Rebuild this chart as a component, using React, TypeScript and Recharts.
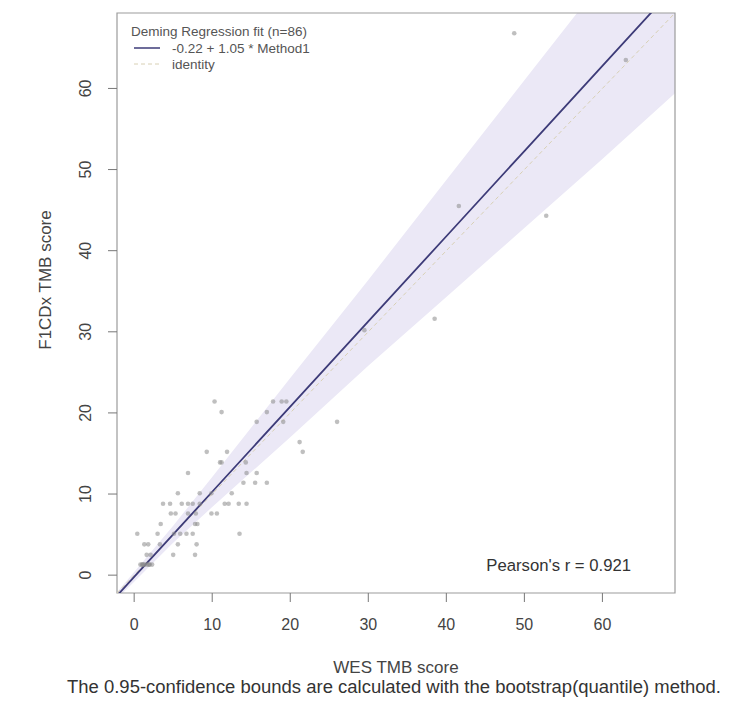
import { ComposedChart, Area, Line, Scatter, XAxis, YAxis, ReferenceArea } from 'recharts';

// WES TMB (x) vs F1CDx TMB (y)
const wesScores = [
  48.7, 63.0, 41.6, 52.8, 38.5, 29.5, 26.0,
  10.3, 17.8, 18.9, 19.5, 11.2, 17.0, 15.7, 19.1, 21.2,
  9.3, 11.9, 21.6, 11.0, 11.2, 14.3, 6.9, 14.4, 15.7,
  14.0, 15.5, 17.0, 5.6, 8.4, 9.9, 12.5,
  3.7, 4.6, 6.1, 6.9, 7.5, 8.4, 11.6, 12.1, 13.4, 14.4,
  4.7, 5.3, 6.9, 7.9, 9.9, 10.6, 3.4, 7.8, 8.1,
  0.4, 3.0, 5.1, 5.9, 6.7, 7.5, 13.5,
  1.3, 1.8, 3.3, 5.6, 8.0, 1.6, 2.1, 5.0, 7.8,
  0.8, 1.0, 1.2, 1.4, 1.7, 2.0, 2.3, 1.1, 1.9,
];
const f1cdxScores = [
  66.8, 63.5, 45.5, 44.3, 31.6, 30.2, 18.9,
  21.4, 21.4, 21.4, 21.4, 20.1, 20.1, 18.9, 18.9, 16.4,
  15.2, 15.2, 15.2, 13.9, 13.9, 13.9, 12.6, 12.6, 12.6,
  11.4, 11.4, 11.4, 10.1, 10.1, 10.1, 10.1,
  8.8, 8.8, 8.8, 8.8, 8.8, 8.8, 8.8, 8.8, 8.8, 8.8,
  7.6, 7.6, 7.6, 7.6, 7.6, 7.6, 6.3, 6.3, 6.3,
  5.1, 5.1, 5.1, 5.1, 5.1, 5.1, 5.1,
  3.8, 3.8, 3.8, 3.8, 3.8, 2.5, 2.5, 2.5, 2.5,
  1.3, 1.3, 1.3, 1.3, 1.3, 1.3, 1.3, 1.3, 1.3,
];

// Deming fit, identity and bootstrap confidence band at a few x positions
const gridX = [-2.2, 0, 5, 10, 20, 30, 40, 50, 60, 69.3];
const fitY = [-2.53, -0.22, 5.03, 10.28, 20.78, 31.28, 41.78, 52.28, 62.78, 72.55];
const identityY = [-2.2, 0, 5, 10, 20, 30, 40, 50, 60, 69.3];
const bandLow = [-2.9, -0.8, 4.0, 8.4, 17.0, 25.8, 34.3, 42.8, 51.3, 59.4];
const bandHigh = [-2.1, 0.4, 6.1, 12.1, 24.3, 36.4, 48.7, 61.0, 73.3, 84.8];

const axisTicks = [0, 10, 20, 30, 40, 50, 60];
const DOMAIN: [number, number] = [-2.2, 69.3];

const lineRows = gridX.map((x, i) => ({
  x,
  fit: fitY[i],
  identity: identityY[i],
  band: [bandLow[i], bandHigh[i]],
}));
const points = wesScores.map((x, i) => ({ x, y: f1cdxScores[i] }));

const FONT = '"Liberation Sans", Arial, sans-serif';

const YTick = (props: any) => {
  const { x, y, payload } = props;
  const cx = x - 23;
  return (
    <text
      x={cx}
      y={y}
      dy="0.35em"
      textAnchor="middle"
      transform={`rotate(-90 ${cx} ${y})`}
      fontSize={16}
      fill="#444"
      fontFamily={FONT}
    >
      {payload.value}
    </text>
  );
};

const Dot = (props: any) => (
  <circle cx={props.cx} cy={props.cy} r={2.3} fill="#8a8a8a" fillOpacity={0.55} />
);

export default function App() {
  return (
    <div style={{ position: 'absolute', left: 0, top: 0, width: 733, height: 701, background: '#fff', fontFamily: FONT }}>
      <ComposedChart width={733} height={701} data={lineRows} margin={{ top: 13, right: 58, left: 57, bottom: 58 }}>
        <XAxis
          dataKey="x"
          type="number"
          domain={DOMAIN}
          allowDataOverflow
          ticks={axisTicks}
          axisLine={false}
          tickLine={{ stroke: '#777' }}
          tickSize={9}
          tickMargin={17}
          height={50}
          tick={{ fontSize: 16, fill: '#444', fontFamily: FONT }}
        />
        <YAxis
          type="number"
          domain={DOMAIN}
          allowDataOverflow
          ticks={axisTicks}
          axisLine={false}
          tickLine={{ stroke: '#777' }}
          tickSize={9}
          tickMargin={0}
          width={60}
          tick={<YTick />}
        />
        <Area
          dataKey="band"
          type="linear"
          stroke="none"
          fill="#ebe8f6"
          fillOpacity={1}
          isAnimationActive={false}
          activeDot={false}
        />
        <Scatter data={points} dataKey="y" shape={<Dot />} isAnimationActive={false} />
        <Line
          dataKey="identity"
          type="linear"
          stroke="#d8d0b4"
          strokeWidth={1}
          strokeDasharray="4 3"
          dot={false}
          activeDot={false}
          isAnimationActive={false}
        />
        <Line
          dataKey="fit"
          type="linear"
          stroke="#3d3b78"
          strokeWidth={1.8}
          dot={false}
          activeDot={false}
          isAnimationActive={false}
        />
        <ReferenceArea x1={DOMAIN[0]} x2={DOMAIN[1]} y1={DOMAIN[0]} y2={DOMAIN[1]} fill="none" stroke="#9c9c9c" strokeWidth={1.2} />
      </ComposedChart>

      <svg width={733} height={701} style={{ position: 'absolute', left: 0, top: 0, pointerEvents: 'none' }} fontFamily={FONT}>
        <text x={131} y={31} fontSize={13.5} fill="#555" dominantBaseline="central">Deming Regression fit (n=86)</text>
        <line x1={134} x2={160} y1={48} y2={48} stroke="#3d3b78" strokeWidth={1.5} />
        <text x={172} y={48} fontSize={13.5} fill="#555" dominantBaseline="central">-0.22 + 1.05 * Method1</text>
        <line x1={134} x2={160} y1={64} y2={64} stroke="#d8d0b4" strokeWidth={1} strokeDasharray="4 3" />
        <text x={172} y={64} fontSize={13.5} fill="#555" dominantBaseline="central">identity</text>

        <text x={631} y={565} fontSize={16.7} fill="#333" textAnchor="end" dominantBaseline="central">Pearson's r = 0.921</text>

        <text x={396} y={667} fontSize={17} fill="#444" textAnchor="middle" dominantBaseline="central">WES TMB score</text>
        <text
          x={45}
          y={280}
          fontSize={17}
          fill="#444"
          textAnchor="middle"
          dominantBaseline="central"
          transform="rotate(-90 45 280)"
        >
          F1CDx TMB score
        </text>
        <text
          x={394}
          y={687}
          fontSize={17.5}
          fill="#333"
          textAnchor="middle"
          dominantBaseline="central"
          textLength={654}
          lengthAdjust="spacingAndGlyphs"
        >
          The 0.95-confidence bounds are calculated with the bootstrap(quantile) method.
        </text>
      </svg>
    </div>
  );
}
